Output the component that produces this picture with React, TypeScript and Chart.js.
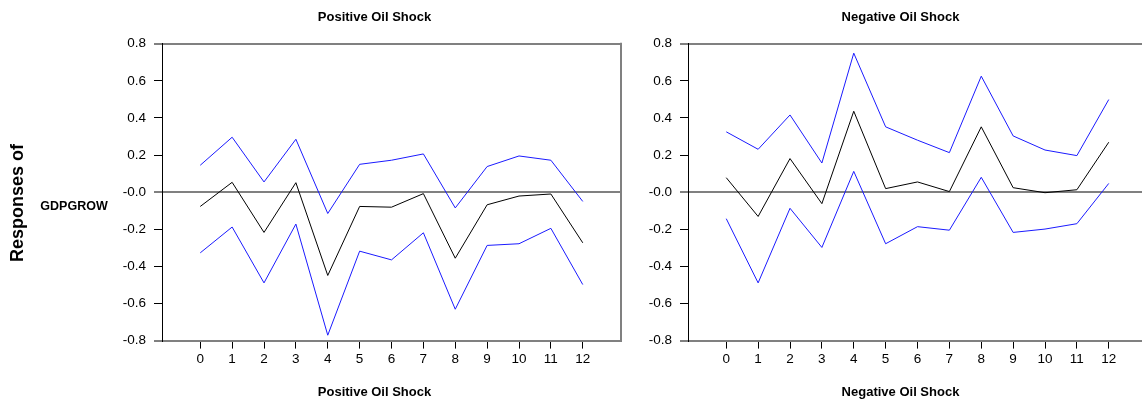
import React, { useEffect, useRef } from "react";
import { Chart, registerables } from "chart.js";

Chart.register(...registerables);

const periods = [0, 1, 2, 3, 4, 5, 6, 7, 8, 9, 10, 11, 12];
const yTicks = [-0.8, -0.6, -0.4, -0.2, 0, 0.2, 0.4, 0.6, 0.8];

const posResponse = [-0.077, 0.053, -0.217, 0.051, -0.449, -0.077, -0.081, -0.008, -0.356, -0.068, -0.021, -0.01, -0.273];
const posUpper = [0.145, 0.296, 0.055, 0.285, -0.115, 0.15, 0.172, 0.206, -0.085, 0.138, 0.195, 0.172, -0.05];
const posLower = [-0.327, -0.188, -0.489, -0.172, -0.771, -0.318, -0.365, -0.219, -0.631, -0.287, -0.278, -0.195, -0.498];

const negResponse = [0.078, -0.131, 0.181, -0.062, 0.436, 0.019, 0.055, 0.003, 0.352, 0.024, -0.003, 0.013, 0.269];
const negUpper = [0.325, 0.231, 0.416, 0.157, 0.749, 0.352, 0.28, 0.213, 0.625, 0.303, 0.227, 0.197, 0.499];
const negLower = [-0.143, -0.489, -0.087, -0.298, 0.112, -0.278, -0.186, -0.205, 0.08, -0.217, -0.199, -0.17, 0.047];

const FONT = "'Liberation Sans', Arial, Helvetica, sans-serif";
const GRAY = "#808080";
const BLUE = "#1a1aff";

const framePlugin = {
  id: "frameRight",
  afterDatasetsDraw(chart: any) {
    const { ctx, chartArea } = chart;
    ctx.save();
    ctx.strokeStyle = GRAY;
    ctx.lineWidth = 2;
    ctx.beginPath();
    ctx.moveTo(chartArea.right, chartArea.top - 1);
    ctx.lineTo(chartArea.right, chartArea.bottom + 1);
    ctx.stroke();
    ctx.restore();
  },
};

const sideLabelPlugin = {
  id: "sideLabels",
  afterDraw(chart: any, _args: any, opts: any) {
    if (!opts || !opts.show) return;
    const { ctx } = chart;
    ctx.save();
    ctx.fillStyle = "#000";
    ctx.textAlign = "center";
    ctx.textBaseline = "middle";
    ctx.font = `bold 18px ${FONT}`;
    ctx.translate(18, 203);
    ctx.rotate(-Math.PI / 2);
    ctx.fillText(opts.rowLabel, 0, 0);
    ctx.restore();
    ctx.save();
    ctx.fillStyle = "#000";
    ctx.textAlign = "center";
    ctx.textBaseline = "middle";
    ctx.font = `bold 12.5px ${FONT}`;
    ctx.fillText(opts.varLabel, 74, 207);
    ctx.restore();
  },
};

function makePoints(values: number[]) {
  return values.map((v, i) => ({ x: periods[i], y: v }));
}

const isEdge = (v: number | null) =>
  v !== null && (Math.abs(v) < 1e-9 || Math.abs(Math.abs(v) - 0.8) < 1e-9);
const isGrayTick = (v: number | null) =>
  v !== null && (Math.abs(v) < 1e-9 || Math.abs(v - 0.8) < 1e-9);

function Panel({ title, response, upper, lower, left, showSide }: any) {
  const ref = useRef<HTMLCanvasElement>(null);
  useEffect(() => {
    const chart = new Chart(ref.current as HTMLCanvasElement, {
      type: "line",
      data: {
        datasets: [
          { data: makePoints(upper), borderColor: BLUE, borderWidth: 1, pointRadius: 0, fill: false, tension: 0 },
          { data: makePoints(response), borderColor: "#000", borderWidth: 1, pointRadius: 0, fill: false, tension: 0 },
          { data: makePoints(lower), borderColor: BLUE, borderWidth: 1, pointRadius: 0, fill: false, tension: 0 },
        ],
      },
      options: {
        responsive: false,
        animation: false,
        layout: { padding: { left: 113, right: 4, top: 0, bottom: 0 }, autoPadding: false },
        plugins: {
          legend: { display: false },
          tooltip: { enabled: false },
          title: {
            display: true,
            text: title,
            color: "#000",
            font: { family: FONT, size: 13, weight: "bold" },
            padding: { top: 9.2, bottom: 18.9 },
          },
          subtitle: {
            display: true,
            text: title,
            position: "bottom",
            color: "#000",
            font: { family: FONT, size: 13, weight: "bold" },
            padding: { top: 18.8, bottom: 0 },
          },
          sideLabels: { show: showSide, rowLabel: "Responses of", varLabel: "GDPGROW" },
        } as any,
        scales: {
          x: {
            type: "linear",
            min: -1.2,
            max: 13.2,
            afterBuildTicks: (scale: any) => {
              scale.ticks = periods.map((p) => ({ value: p }));
            },
            afterFit: (scale: any) => {
              scale.height = 25;
            },
            ticks: {
              color: "#000",
              font: { family: FONT, size: 13.5 },
              padding: 3,
              maxRotation: 0,
              autoSkip: false,
              callback: (v: any) => String(v),
            },
            grid: { drawOnChartArea: false, drawTicks: true, tickLength: 8, tickColor: "#000", tickWidth: 1 },
            border: { display: true, color: GRAY, width: 2 },
          },
          y: {
            type: "linear",
            min: -0.8,
            max: 0.8,
            afterBuildTicks: (scale: any) => {
              scale.ticks = yTicks.map((t) => ({ value: t }));
            },
            afterFit: (scale: any) => {
              scale.width = 49;
            },
            ticks: {
              color: "#000",
              font: { family: FONT, size: 13.5 },
              padding: 8,
              callback: (v: any) => (Math.abs(v) < 1e-9 ? "-0.0" : Number(v).toFixed(1)),
            },
            grid: {
              drawOnChartArea: true,
              drawTicks: true,
              tickLength: 8,
              color: (c: any) => (isEdge(c.tick ? c.tick.value : null) ? GRAY : "rgba(0,0,0,0)"),
              lineWidth: (c: any) => (isEdge(c.tick ? c.tick.value : null) ? 2 : 1),
              tickColor: (c: any) => (isGrayTick(c.tick ? c.tick.value : null) ? GRAY : "#000"),
              tickWidth: (c: any) => (isGrayTick(c.tick ? c.tick.value : null) ? 2 : 1),
            },
            border: { display: true, color: "#000", width: 1 },
          },
          spacer: {
            type: "linear",
            position: "right",
            display: true,
            ticks: { display: false },
            grid: { display: false, drawTicks: false },
            border: { display: false },
            afterFit: (scale: any) => {
              scale.width = 15;
            },
          },
        },
      } as any,
      plugins: [framePlugin, sideLabelPlugin],
    });
    return () => chart.destroy();
  }, []);
  return (
    <div style={{ position: "absolute", left, top: 0, width: 640, height: 400 }}>
      <canvas ref={ref} width={640} height={400} style={{ display: "block" }} />
    </div>
  );
}

export default function App() {
  return (
    <div
      style={{
        position: "absolute",
        left: 0,
        top: 0,
        width: 1142,
        height: 400,
        overflow: "hidden",
        background: "#fff",
      }}
    >
      <Panel title="Positive Oil Shock" response={posResponse} upper={posUpper} lower={posLower} left={0} showSide={true} />
      <Panel title="Negative Oil Shock" response={negResponse} upper={negUpper} lower={negLower} left={526} showSide={false} />
    </div>
  );
}
